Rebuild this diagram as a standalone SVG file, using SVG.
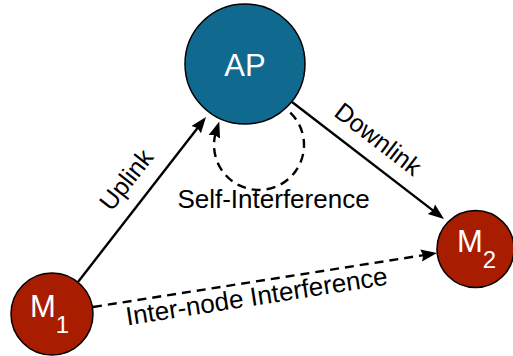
<svg xmlns="http://www.w3.org/2000/svg" width="513" height="356" viewBox="0 0 513 356">
<style>
.node-ap{fill:#10698f;stroke:#000;stroke-width:1.5}
.node-m{fill:#a81c00;stroke:#000;stroke-width:1.5}
.nlabel{font-family:"Liberation Sans",Arial,sans-serif;font-size:31px;fill:#fff}
.sub{font-size:24px}
.edge{fill:none;stroke:#000;stroke-width:2.4}
.dash{stroke-dasharray:9 6}
.elabel{font-family:"Liberation Sans",Arial,sans-serif;font-size:25px;fill:#000}
</style>
<defs>
<marker id="arrow" markerUnits="userSpaceOnUse" markerWidth="18" markerHeight="14" refX="6" refY="6" orient="auto" viewBox="0 0 18 12">
<path d="M0,0 L16,6 L0,12 L2,6 z" fill="#000" stroke="none"/>
</marker>
</defs>
<g id="connectors">
<path id="uplink" class="edge" d="M78,282 L199.9,124.9" marker-end="url(#arrow)"/>
<path id="downlink" class="edge" d="M292,102 L436.1,212.9" marker-end="url(#arrow)"/>
<path id="self-interference" class="edge dash" d="M290.3,112.6 A45,45 0 1 1 216.2,131.1" marker-end="url(#arrow)"/>
<path id="inter-node" class="edge dash" d="M93,307 L427.1,254.6" marker-end="url(#arrow)"/>
<text class="elabel" text-anchor="middle" transform="translate(133,185) rotate(-52)">Uplink</text>
<text class="elabel" text-anchor="middle" transform="translate(373,146) rotate(37.5)">Downlink</text>
<text class="elabel" x="273.5" y="208" text-anchor="middle" style="font-size:26px">Self-Interference</text>
<text class="elabel" text-anchor="middle" transform="translate(258,305) rotate(-8.9)" style="font-size:26px">Inter-node Interference</text>
</g>
<g id="node-ap">
<circle class="node-ap" cx="245" cy="64" r="60"/>
<text class="nlabel" x="245" y="76" text-anchor="middle">AP</text>
</g>
<g id="node-m1">
<circle class="node-m" cx="52" cy="314" r="41"/>
<text class="nlabel" x="30" y="317">M<tspan class="sub" dy="16">1</tspan></text>
</g>
<g id="node-m2">
<circle class="node-m" cx="475.5" cy="249" r="38.5"/>
<text class="nlabel" x="457" y="252">M<tspan class="sub" dy="16">2</tspan></text>
</g>
</svg>
